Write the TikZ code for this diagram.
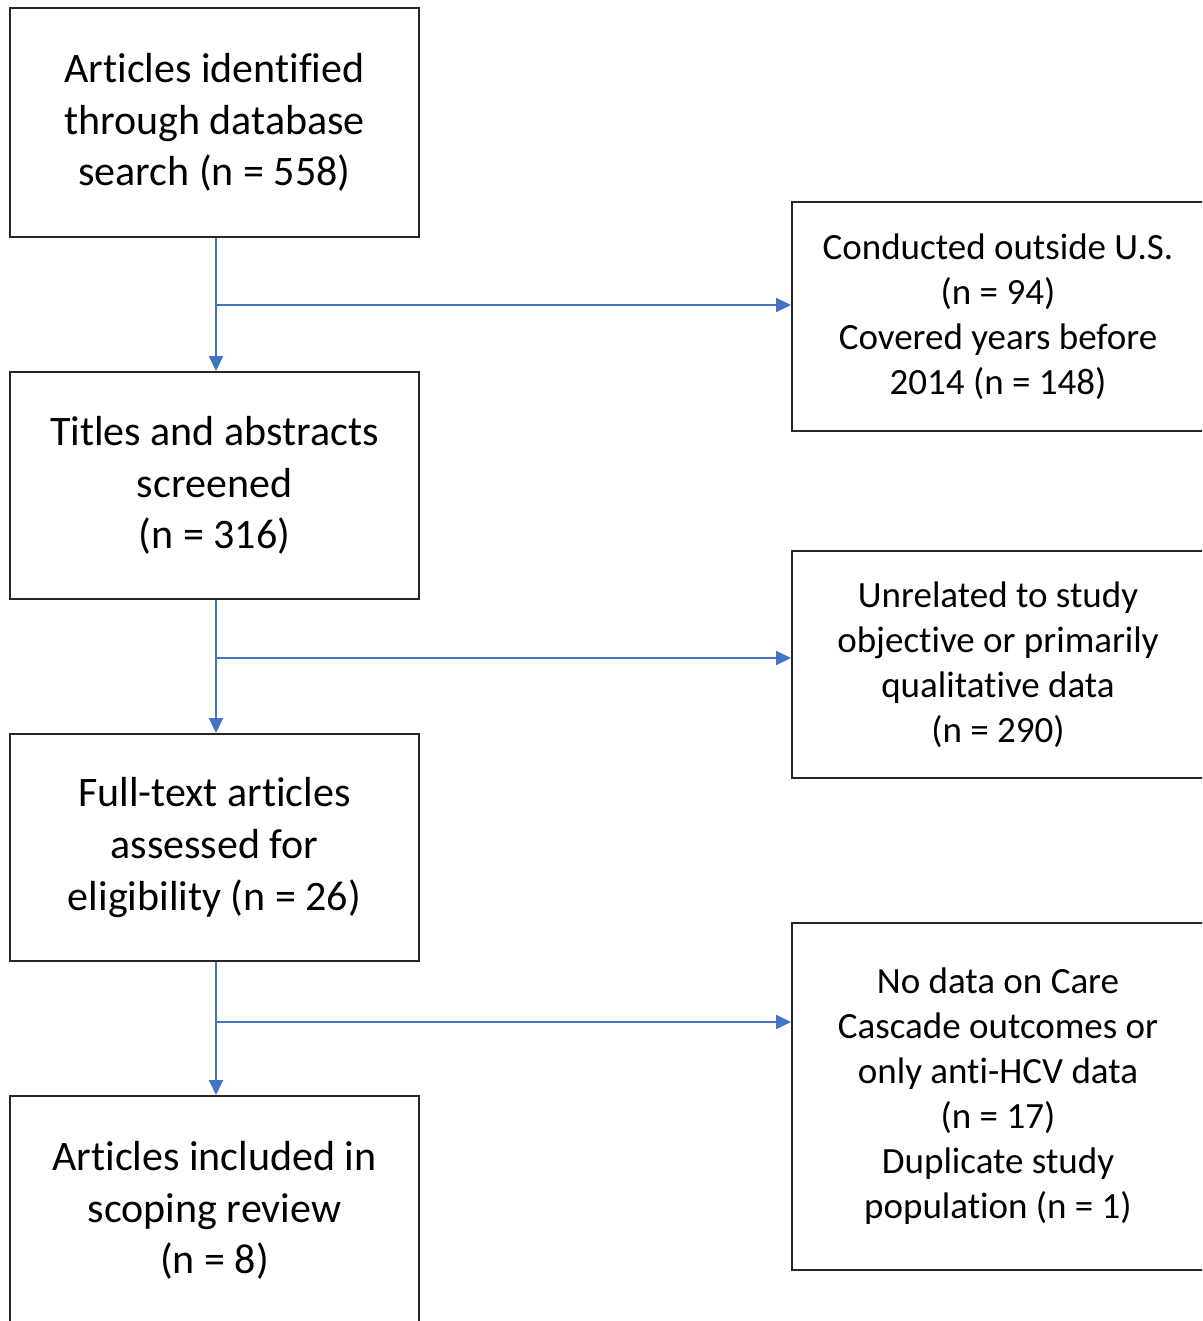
\documentclass[tikz,border=0pt]{standalone}
\usepackage{fontspec}
\setmainfont{Carlito}[Ligatures={NoCommon}]
\usetikzlibrary{arrows.meta}
\definecolor{flowblue}{RGB}{68,114,196}
\begin{document}
\begin{tikzpicture}[x=1pt,y=-1pt,
  leftbox/.style={draw=black!85,line width=2pt,minimum width=409pt,inner sep=0pt,align=center,
    font=\fontsize{42}{51.7}\selectfont},
  rightbox/.style={draw=black!85,line width=2pt,minimum width=412pt,inner sep=0pt,align=center,
    font=\fontsize{37}{45}\selectfont},
  flow/.style={draw=flowblue,line width=2pt,-{Triangle[length=15pt,width=14pt]}}]
\useasboundingbox (0,0) rectangle (1202,1321);
\clip (0,0) rectangle (1202,1321);
\fill[white] (0,0) rectangle (1202,1321);
\node[leftbox,minimum height=229pt] (b1) at (214.5,122.5) {Articles identified\\through database\\search (n = 558)};
\node[leftbox,minimum height=227pt] (b2) at (214.5,485.5) {Titles and abstracts\\screened\\(n = 316)};
\node[leftbox,minimum height=227pt] (b3) at (214.5,847.5) {Full-text articles\\assessed for\\eligibility (n = 26)};
\node[leftbox,minimum height=229pt] (b4) at (214.5,1210.5) {Articles included in\\scoping review\\(n = 8)};
\node[rightbox,minimum height=229pt] (r1) at (998,316.5) {Conducted outside U.S.\\(n = 94)\\Covered years before\\2014 (n = 148)};
\node[rightbox,minimum height=227pt] (r2) at (998,664.5) {Unrelated to study\\objective or primarily\\qualitative data\\(n = 290)};
\node[rightbox,minimum height=347pt] (r3) at (998,1096.5) {No data on Care\\Cascade outcomes or\\only anti-HCV data\\(n = 17)\\Duplicate study\\population (n = 1)};
\coordinate (j1) at (216,305);
\coordinate (j2) at (216,658);
\coordinate (j3) at (216,1022);
\draw[flow] (b1.south -| j1) -- (b2.north -| j1);
\draw[flow] (b2.south -| j2) -- (b3.north -| j2);
\draw[flow] (b3.south -| j3) -- (b4.north -| j3);
\draw[flow] (j1) -- (j1 -| r1.west);
\draw[flow] (j2) -- (j2 -| r2.west);
\draw[flow] (j3) -- (j3 -| r3.west);
\end{tikzpicture}
\end{document}
